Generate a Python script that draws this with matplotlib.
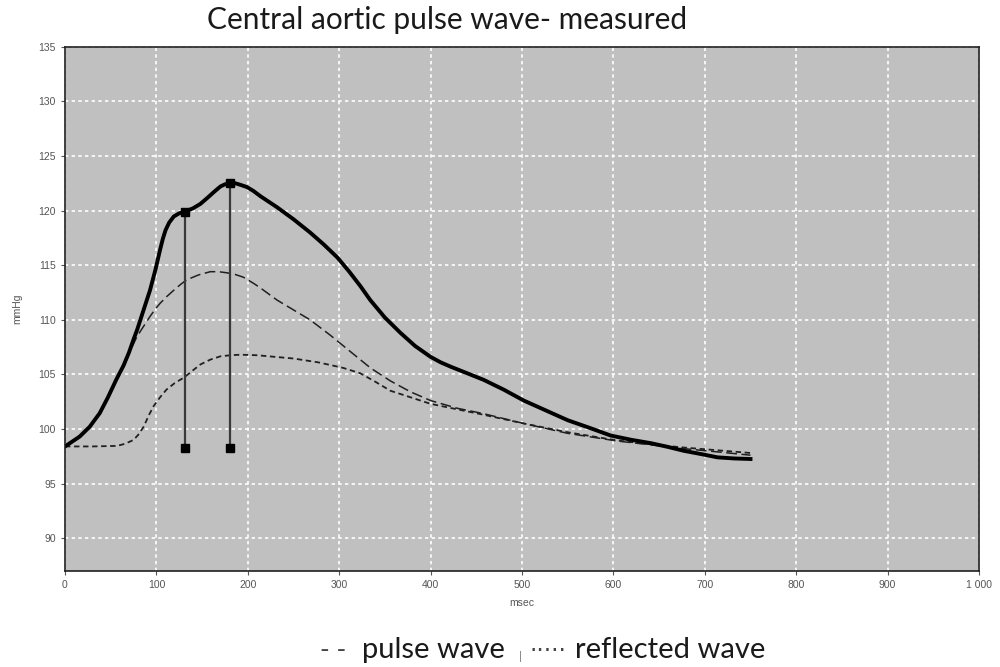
import numpy as np
import matplotlib.pyplot as plt
from matplotlib.ticker import FuncFormatter

# central (measured) pressure wave
main_x = [0, 16, 27, 38, 47, 56, 64, 70, 75, 79, 86, 93, 99, 104, 107, 110, 114, 119, 125, 131,
          140, 148, 155, 163, 170, 175, 180, 186, 192, 199, 206, 214, 232, 250, 268, 283, 298,
          311, 323, 334, 350, 367, 383, 400, 411, 422, 440, 458, 480, 502, 526, 550, 574, 597,
          620, 641, 660, 677, 696, 714, 732, 750]
main_y = [98.4, 99.3, 100.2, 101.45, 102.9, 104.5, 105.8, 107.0, 108.2, 109.1, 110.9, 112.7,
          114.6, 116.4, 117.4, 118.2, 118.9, 119.45, 119.75, 119.9, 120.2, 120.6, 121.1, 121.7,
          122.2, 122.4, 122.5, 122.5, 122.35, 122.15, 121.8, 121.3, 120.3, 119.2, 118.0, 116.9,
          115.7, 114.4, 113.1, 111.8, 110.2, 108.8, 107.6, 106.6, 106.1, 105.7, 105.1, 104.5,
          103.6, 102.6, 101.7, 100.8, 100.1, 99.4, 99.0, 98.7, 98.35, 98.0, 97.7, 97.4, 97.3,
          97.25]

# forward pulse wave
pulse_x = [0, 16, 27, 38, 47, 56, 64, 70, 75, 79, 86, 93, 99, 104, 111, 119, 126, 133, 146, 159,
           168, 177, 186, 195, 206, 214, 232, 250, 268, 290, 312, 334, 356, 378, 400, 429, 458,
           480, 502, 526, 550, 577, 604, 640, 677, 714, 750]
pulse_y = [98.4, 99.3, 100.2, 101.45, 102.9, 104.5, 105.8, 106.9, 107.8, 108.5, 109.4, 110.3,
           111.0, 111.5, 112.1, 112.7, 113.2, 113.65, 114.1, 114.4, 114.4, 114.3, 114.15, 113.9,
           113.35, 112.9, 111.8, 110.9, 110.0, 108.6, 107.1, 105.6, 104.4, 103.4, 102.6, 101.9,
           101.4, 100.95, 100.5, 100.05, 99.6, 99.25, 98.9, 98.55, 98.2, 97.9, 97.6]

# reflected wave
refl_x = [0, 30, 57, 66, 75, 80, 86, 92, 97, 104, 111, 120, 130, 139, 148, 159, 170, 181, 192,
          210, 230, 250, 277, 304, 323, 340, 356, 378, 400, 429, 458, 502, 550, 604, 640, 677,
          714, 750]
refl_y = [98.4, 98.4, 98.45, 98.65, 99.0, 99.45, 100.2, 101.3, 102.1, 102.9, 103.6, 104.2, 104.7,
          105.3, 105.9, 106.35, 106.65, 106.75, 106.8, 106.75, 106.6, 106.45, 106.1, 105.6, 105.1,
          104.3, 103.5, 102.9, 102.3, 101.8, 101.3, 100.5, 99.7, 98.95, 98.6, 98.3, 98.05, 97.8]

# markers for the inflection points
mark_x = [131, 180]
mark_top = [119.9, 122.5]
mark_base = 98.3

fig = plt.figure(figsize=(10, 6.67), dpi=100)
ax = fig.add_axes([0.065, 0.144, 0.914, 0.786])
ax.set_facecolor('#c0c0c0')

ax.plot(refl_x, refl_y, color='#202020', lw=1.3, ls=(0, (3, 2)))
ax.plot(pulse_x, pulse_y, color='#202020', lw=1.1, ls=(0, (7, 3)))
ax.plot(main_x, main_y, color='black', lw=2.8, solid_joinstyle='round')

for x, top in zip(mark_x, mark_top):
    ax.plot([x, x], [mark_base, top], color='#3a3a3a', lw=1.6)
    ax.plot([x, x], [mark_base, top], 's', color='black', ms=6)

ax.set_xlim(0, 1000)
ax.set_ylim(87, 135)
ax.set_xticks(np.arange(0, 1001, 100))
ax.set_yticks(np.arange(90, 136, 5))
ax.xaxis.set_major_formatter(FuncFormatter(lambda v, p: '1 000' if v == 1000 else '%d' % v))
ax.grid(True, color='white', ls=(0, (2, 2)), lw=1.2)
ax.set_axisbelow(True)
ax.tick_params(labelsize=7.5, labelcolor='#555555', length=3, color='#555555',
               labelfontfamily='Liberation Sans')
for s in ax.spines.values():
    s.set_color('#202020')
    s.set_linewidth(1.2)

ax.set_xlabel('msec', fontsize=7.5, color='#555555', family='Liberation Sans', labelpad=6)
ax.set_ylabel('mmHg', fontsize=7.5, color='#555555', family='Liberation Sans', labelpad=12)

fig.text(0.447, 0.970, 'Central aortic pulse wave- measured', ha='center', va='center',
         fontsize=21.5, family='Lato', color='#1a1a1a')

# legend written as text under the chart
fig.text(0.320, 0.014, '- -', ha='left', va='baseline', fontsize=19, family='Lato', color='#444444')
fig.text(0.362, 0.014, 'pulse wave', ha='left', va='baseline', fontsize=21, family='Lato', color='#1a1a1a')
fig.text(0.519, 0.010, '|', ha='left', va='baseline', fontsize=8, family='Lato', color='#666666')
fig.text(0.530, 0.014, '\u00b7\u00b7\u00b7\u00b7\u00b7', ha='left', va='baseline', fontsize=17,
         family='DejaVu Sans', color='#444444')
fig.text(0.575, 0.014, 'reflected wave', ha='left', va='baseline', fontsize=21, family='Lato', color='#1a1a1a')

fig.savefig('out.png')
